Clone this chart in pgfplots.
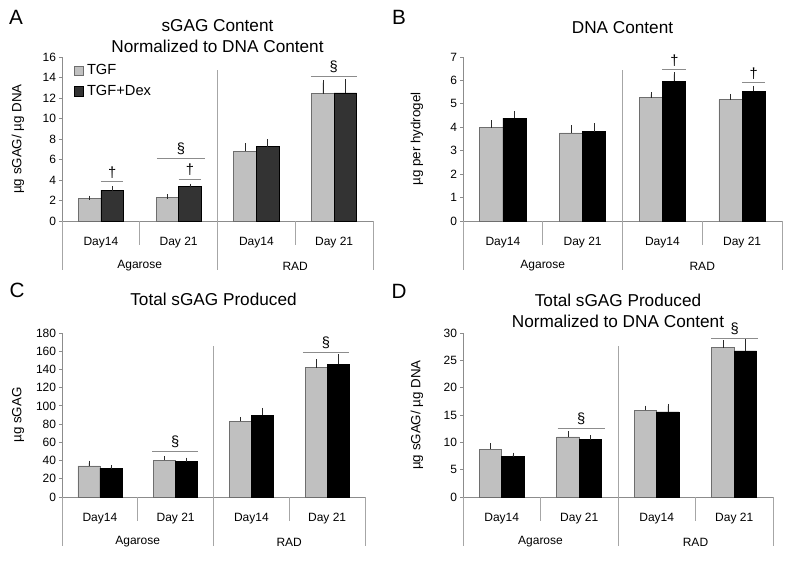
\documentclass[border=0pt]{standalone}
\usepackage{pgfplots}
\pgfplotsset{compat=1.18}
\usepackage{fontspec}
\setmainfont{Liberation Sans}
\usetikzlibrary{calc}
\definecolor{lgray}{HTML}{C0C0C0}
\definecolor{dgray}{HTML}{333333}
\definecolor{axgray}{HTML}{8C8C8C}
\definecolor{sepgray}{HTML}{A6A6A6}
\definecolor{edgegray}{HTML}{6E6E6E}
\definecolor{errgray}{HTML}{2A2A2A}
\newcommand{\catdecor}{%
  \draw[sepgray,line width=0.5pt] (axis cs:-0.5,0) -- ++(0pt,-36.75pt);
  \draw[sepgray,line width=0.5pt] (axis cs:0.5,0) -- ++(0pt,-18pt);
  \draw[sepgray,line width=0.5pt] (axis cs:1.5,0) ++(0pt,-36.75pt) -- ++(0pt,150pt);
  \draw[sepgray,line width=0.5pt] (axis cs:2.5,0) -- ++(0pt,-18pt);
  \draw[sepgray,line width=0.5pt] (axis cs:3.5,0) -- ++(0pt,-36.75pt);
  \path (axis cs:0,0) ++(0pt,-16.5pt) node[font=\fontsize{9}{10}\selectfont] {Day14};
  \path (axis cs:1,0) ++(0pt,-16.5pt) node[font=\fontsize{9}{10}\selectfont] {Day 21};
  \path (axis cs:2,0) ++(0pt,-16.5pt) node[font=\fontsize{9}{10}\selectfont] {Day14};
  \path (axis cs:3,0) ++(0pt,-16.5pt) node[font=\fontsize{9}{10}\selectfont] {Day 21};
  \path (axis cs:0.5,0) ++(0pt,-33.75pt) node[font=\fontsize{9}{10}\selectfont] {Agarose};
  \path (axis cs:2.5,0) ++(0pt,-33.75pt) node[font=\fontsize{9}{10}\selectfont] {RAD};
}
\newcommand{\sig}[4]{% x1, x2, y, symbol
  \draw[axgray,line width=0.6pt] (axis cs:#1,#3) -- (axis cs:#2,#3);
  \path (axis cs:#1,#3) -- (axis cs:#2,#3) node[midway,anchor=south,inner sep=0pt,yshift=2.5pt,font=\fontsize{11}{12}\selectfont] {#4};
}
\pgfplotsset{
  panel/.style={
    scale only axis, anchor=south west, height=123pt,
    xmin=-0.5, xmax=3.5, ymin=0, clip=false,
    axis x line*=bottom, axis y line*=left,
    axis line style={draw=axgray, line width=0.6pt},
    xtick=\empty,
    ytick style={draw=axgray, line width=0.6pt},
    tick align=outside, major tick length=2.25pt,
    /pgf/number format/assume math mode=true,
    yticklabel style={font=\fontsize{9}{10}\selectfont, inner sep=2pt},
    title style={font=\fontsize{12.9}{16}\selectfont, align=center, at={(rel axis cs:0.5,1)}, anchor=south, inner sep=0pt},
    ylabel style={font=\fontsize{10}{12}\selectfont, anchor=center},
  },
  tgf/.style={ybar, bar width=0.29, bar shift=0, fill=lgray, draw=edgegray, line width=0.5pt,
    error bars/.cd, y dir=plus, y explicit, error mark=-,
    error bar style={line width=0.4pt, errgray},
    error mark options={mark size=1.6pt, line width=0.4pt, errgray}},
  dex/.style={ybar, bar width=0.29, bar shift=0, fill=#1, draw=black, line width=0.5pt,
    error bars/.cd, y dir=plus, y explicit, error mark=-,
    error bar style={line width=0.4pt, errgray},
    error mark options={mark size=1.6pt, line width=0.4pt, errgray}},
}
\begin{document}
\begin{tikzpicture}
\path (0,0) rectangle (600pt,426pt);
% Panel labels
\node[font=\fontsize{15.5}{16}\selectfont] at (12pt,413.25pt) {A};
\node[font=\fontsize{15.5}{16}\selectfont] at (299.25pt,413.25pt) {B};
\node[font=\fontsize{15.5}{16}\selectfont] at (12.75pt,208pt) {C};
\node[font=\fontsize{15.5}{16}\selectfont] at (299.25pt,207.75pt) {D};

% Panel A
\begin{axis}[panel, at={(46.5pt,260.25pt)}, width=233.25pt,
  ymax=16, ytick={0,2,...,16},
  title={sGAG Content\\Normalized to DNA Content}, title style={yshift=-3.3pt},
  ylabel={µg sGAG/ µg DNA}, ylabel style={at={($(rel axis cs:0,0.5)+(-33pt,0pt)$)}},
  legend style={draw=none, fill=none, at={(rel axis cs:0.038,0.975)}, anchor=north west,
    font=\fontsize{11}{12}\selectfont, row sep=1.5pt, inner sep=0pt,
    legend cell align=left, nodes={inner sep=2.4pt}},
  legend image code/.code={\draw[#1,line width=0.5pt] (0pt,-3.4pt) rectangle (6.8pt,3.4pt);},
]
\addplot[tgf] coordinates {(-0.145,2.2) +- (0,0.07) (0.855,2.3) +- (0,0.08) (1.855,6.82) +- (0,0.58) (2.855,12.43) +- (0,1.07)};
\addplot[dex=dgray] coordinates {(0.145,3.02) +- (0,0.16) (1.145,3.34) +- (0,0.10) (2.145,7.24) +- (0,0.55) (3.145,12.5) +- (0,1.1)};
\legend{TGF, TGF+Dex}
\catdecor
\sig{0.0}{0.29}{3.83}{†}
\sig{0.72}{1.34}{6.14}{§}
\sig{1.0}{1.29}{4.09}{†}
\sig{2.7}{3.29}{14.12}{§}
\end{axis}

% Panel B
\begin{axis}[panel, at={(347.25pt,260.25pt)}, width=239.25pt,
  ymax=7, ytick={0,1,...,7},
  title={DNA Content}, title style={yshift=11pt},
  ylabel={µg per hydrogel}, ylabel style={at={($(rel axis cs:0,0.5)+(-34.5pt,0pt)$)}},
]
\addplot[tgf] coordinates {(-0.145,3.99) +- (0,0.21) (0.855,3.76) +- (0,0.23) (1.855,5.27) +- (0,0.13) (2.855,5.18) +- (0,0.16)};
\addplot[dex=black] coordinates {(0.145,4.39) +- (0,0.20) (1.145,3.81) +- (0,0.28) (2.145,5.97) +- (0,0.29) (3.145,5.53) +- (0,0.15)};
\catdecor
\sig{2.0}{2.3}{6.46}{†}
\sig{3.0}{3.29}{5.9}{†}
\end{axis}

% Panel C
\begin{axis}[panel, at={(46.5pt,53.25pt)}, width=227.25pt,
  ymax=180, ytick={0,20,...,180},
  title={Total sGAG Produced}, title style={yshift=14.5pt},
  ylabel={µg sGAG}, ylabel style={at={($(rel axis cs:0,0.5)+(-33pt,0pt)$)}},
]
\addplot[tgf] coordinates {(-0.145,34.2) +- (0,3.3) (0.855,40.4) +- (0,2.2) (1.855,83.1) +- (0,2.5) (2.855,142) +- (0,6.6)};
\addplot[dex=black] coordinates {(0.145,31.7) +- (0,1.1) (1.145,39.3) +- (0,1.5) (2.145,90) +- (0,5.4) (3.145,145.7) +- (0,8.8)};
\catdecor
\sig{0.69}{1.3}{50.3}{§}
\sig{2.68}{3.29}{159.2}{§}
\end{axis}

% Panel D
\begin{axis}[panel, at={(347.25pt,53.25pt)}, width=232.5pt,
  ymax=30, ytick={0,5,...,30},
  title={Total sGAG Produced\\Normalized to DNA Content}, title style={yshift=-2.3pt},
  ylabel={µg sGAG/ µg DNA}, ylabel style={at={($(rel axis cs:0,0.5)+(-34.5pt,0pt)$)}},
]
\addplot[tgf] coordinates {(-0.145,8.75) +- (0,0.67) (0.855,11.0) +- (0,0.66) (1.855,15.86) +- (0,0.48) (2.855,27.34) +- (0,0.97)};
\addplot[dex=black] coordinates {(0.145,7.41) +- (0,0.31) (1.145,10.5) +- (0,0.44) (2.145,15.55) +- (0,1.1) (3.145,26.73) +- (0,1.87)};
\catdecor
\sig{0.72}{1.33}{12.64}{§}
\sig{2.7}{3.31}{29.1}{§}
\end{axis}
\end{tikzpicture}
\end{document}
